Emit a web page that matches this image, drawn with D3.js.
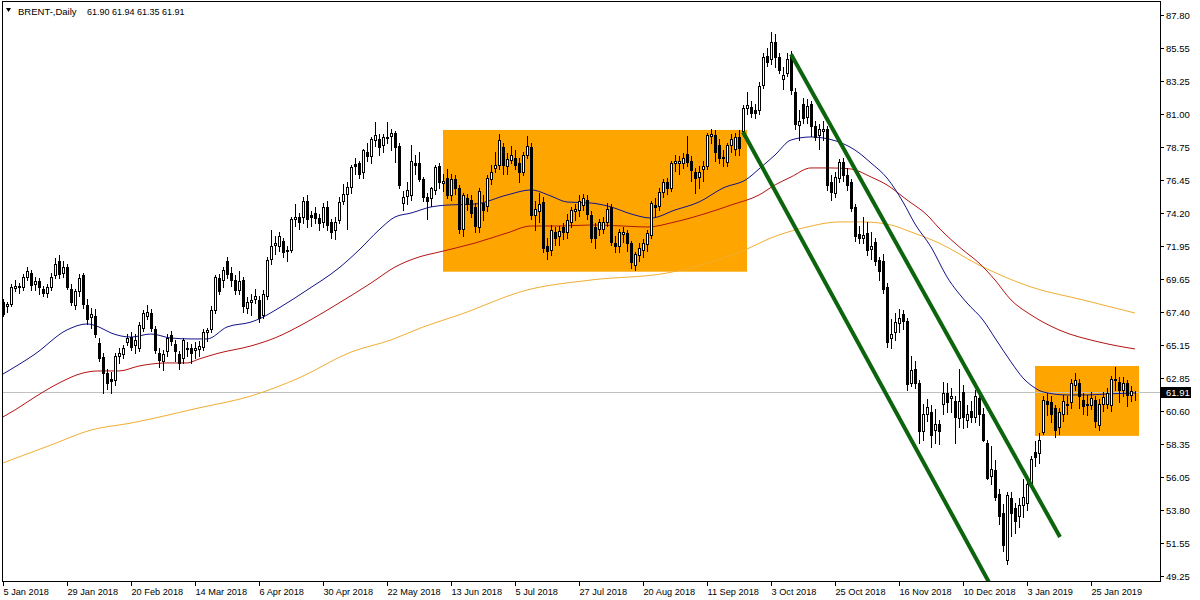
<!DOCTYPE html>
<html>
<head>
<meta charset="utf-8">
<script src="https://cdn.jsdelivr.net/npm/d3@7"></script>
<style>
  html, body { margin: 0; padding: 0; background: #ffffff; }
  svg { display: block; }
  text { font-family: "Liberation Sans", "DejaVu Sans", sans-serif; }
</style>
</head>
<body>
<svg id="chart" width="1200" height="600"></svg>
<script>
// ---------------- DATA ----------------
const SYMBOL = "BRENT-,Daily";
const LAST_OHLC = ["61.90", "61.94", "61.35", "61.91"];
const START_DATE = "2018-01-05";
const HOLIDAYS = ["2018-03-30", "2018-12-25", "2019-01-01"];

const OPEN = [
68.05,67.80,67.95,69.05,69.15,69.10,69.80,70.05,69.30,69.50,68.95,68.70,69.10,69.90,70.90,70.05,70.50,69.00,67.85,68.85,
69.90,67.90,67.05,67.10,65.25,64.30,63.20,62.80,62.70,64.40,64.50,65.30,65.70,65.10,64.90,66.30,67.10,67.30,66.20,64.60,
64.05,64.70,65.80,65.20,64.50,64.20,64.95,64.90,64.75,64.85,65.00,66.00,66.20,67.50,69.70,69.60,70.90,70.05,69.60,68.90,
69.60,67.70,68.10,68.30,68.20,67.20,68.50,71.00,72.00,71.90,72.25,71.65,71.65,73.80,73.90,73.90,75.00,74.05,74.20,73.85,
73.60,74.60,73.60,73.00,73.70,75.00,75.50,76.00,77.55,77.60,77.00,78.40,78.10,79.20,79.30,78.90,79.35,79.50,79.70,78.80,
74.90,75.35,75.40,77.60,77.65,76.50,75.30,75.20,75.80,77.40,76.25,76.60,75.40,76.50,75.90,73.10,75.20,75.10,74.60,73.25,
74.90,74.70,76.50,77.30,77.50,78.75,77.40,77.85,78.00,77.60,77.00,78.20,78.75,74.05,74.30,74.95,71.90,71.65,72.90,72.60,
73.20,72.90,73.60,74.30,74.40,74.75,75.10,74.05,73.25,73.10,73.10,73.60,74.60,72.15,71.90,72.75,72.80,72.15,70.60,71.30,
71.65,72.05,72.70,74.75,74.70,75.65,76.35,75.90,77.60,77.60,77.65,78.25,77.80,77.00,76.70,77.20,77.40,79.50,79.55,78.90,
78.05,77.70,78.85,78.60,79.45,79.80,81.40,81.45,81.30,81.30,83.00,85.00,84.80,85.95,84.90,83.40,83.80,85.05,82.50,80.25,
81.70,80.80,81.70,80.20,79.55,79.85,80.00,76.35,75.55,76.60,77.70,76.80,76.30,74.60,72.75,72.50,72.80,71.70,72.20,70.95,
70.90,69.10,65.60,66.00,66.65,67.25,66.80,62.50,63.50,62.50,59.20,60.40,60.50,59.30,59.70,61.10,61.85,61.50,61.30,60.10,
61.90,59.95,60.60,60.20,61.45,60.40,58.40,56.10,56.50,54.90,53.60,50.35,54.60,53.90,53.40,54.10,54.25,55.60,57.80,57.70,
59.15,61.25,61.20,60.80,59.50,60.40,61.00,61.20,62.40,62.50,61.35,61.00,61.00,61.35,59.60,61.10,61.10,61.00,62.80,62.60,
62.00,62.50,61.70,61.90];
const HIGH = [
68.30,68.10,69.30,69.60,69.40,70.00,70.50,70.30,69.80,69.70,69.20,69.30,70.10,71.10,71.30,70.90,70.70,69.30,69.00,70.00,
70.10,68.30,67.70,67.60,65.60,64.60,63.50,63.30,64.60,64.90,65.10,65.90,66.00,65.90,66.70,67.50,67.90,67.60,66.40,64.90,
64.80,65.90,66.10,65.50,64.70,65.60,65.30,65.20,65.30,65.40,66.20,66.30,67.80,69.90,70.00,70.50,71.20,70.50,69.90,70.20,
69.80,68.40,68.60,69.00,68.50,68.90,71.20,73.00,72.60,72.90,72.50,71.90,73.90,74.80,74.20,75.30,75.40,74.30,74.60,74.10,
74.90,75.00,73.80,73.90,75.30,76.20,76.30,77.50,78.00,77.80,78.60,79.00,79.40,80.45,79.60,79.60,80.45,80.00,79.80,79.00,
75.70,76.30,78.90,78.20,78.40,76.70,75.60,76.00,77.50,77.60,76.90,77.20,76.90,76.80,76.10,75.60,75.50,75.40,74.90,75.90,
75.40,76.80,77.50,78.40,79.60,79.00,78.30,78.80,78.50,78.00,78.40,79.50,79.00,75.00,75.60,75.30,72.50,73.40,73.20,73.30,
73.50,74.10,74.60,74.80,75.40,75.50,75.40,74.30,73.50,73.80,73.90,74.90,74.80,72.60,73.10,73.20,73.00,72.30,71.50,72.10,
72.40,73.00,75.00,75.20,75.90,76.50,76.60,77.80,78.20,78.10,78.30,79.50,78.10,77.30,77.40,77.80,79.70,80.00,79.90,79.30,
78.50,79.00,79.60,79.70,79.90,81.60,82.50,81.90,81.70,83.20,85.20,85.50,86.65,86.50,85.20,84.20,85.20,85.30,82.80,81.30,
82.10,82.00,81.90,80.50,80.30,80.50,80.20,76.80,77.00,77.90,78.00,77.30,76.50,74.80,73.30,73.90,73.60,72.90,72.50,71.20,
71.40,69.40,66.90,67.30,67.60,67.50,67.00,64.40,64.00,62.70,61.10,61.40,61.00,60.70,60.00,62.60,62.50,62.20,61.60,63.50,
62.40,61.00,61.30,62.00,61.90,60.80,58.60,58.20,57.20,55.20,54.20,55.00,55.00,54.30,54.60,55.90,56.20,57.50,58.50,59.10,
61.60,61.80,61.60,61.00,60.80,61.70,61.60,62.80,63.20,62.80,61.80,61.70,61.90,61.60,61.40,61.90,62.20,63.00,63.60,62.90,
62.90,62.70,62.30,61.94];
const LOW = [
67.10,67.40,67.80,68.80,68.70,68.90,69.60,68.90,68.90,68.60,68.50,68.40,68.90,69.70,69.70,69.80,69.00,67.90,67.60,68.50,
67.70,66.60,66.30,65.70,64.00,61.80,62.10,61.80,62.40,63.90,64.20,65.10,64.80,64.60,64.70,66.10,66.90,66.10,64.60,63.60,
63.40,64.40,65.10,64.00,63.50,63.90,64.40,63.90,64.20,64.40,64.80,65.40,66.00,67.30,68.60,69.10,69.70,69.20,68.60,68.60,
67.40,67.30,67.20,68.00,66.70,67.00,68.30,70.70,71.40,71.60,71.20,70.90,71.50,73.30,73.10,73.50,73.20,73.30,73.50,73.00,
73.20,73.00,72.50,72.40,73.50,74.80,73.10,75.60,76.90,76.60,76.60,77.80,77.60,78.80,78.20,78.40,79.00,78.50,77.70,75.90,
74.40,74.80,75.10,76.90,76.40,75.00,73.80,74.70,75.50,75.90,75.70,75.20,75.10,75.50,72.80,72.60,74.40,73.90,72.90,72.90,
73.70,74.30,76.20,77.00,77.20,76.90,76.90,77.60,77.20,76.30,76.80,78.00,73.80,73.00,73.60,71.50,71.00,71.30,72.00,72.00,
72.40,72.50,73.20,73.70,74.00,74.40,73.80,72.20,71.80,72.70,72.80,73.30,72.00,71.50,71.50,72.20,71.60,70.40,70.25,70.90,
71.20,71.60,72.50,74.00,74.40,75.30,75.50,75.70,77.10,76.90,77.30,77.40,76.40,75.60,75.90,76.40,77.20,79.00,77.80,77.60,
77.40,77.40,78.40,78.20,78.20,79.50,81.00,80.80,80.70,81.00,82.80,84.30,84.40,84.20,83.80,82.70,83.60,82.40,80.00,79.20,
80.40,80.40,79.50,79.20,78.60,79.20,75.80,75.10,75.30,76.30,76.40,75.80,74.30,72.30,72.10,72.10,71.30,71.00,70.60,69.60,
68.70,65.00,64.90,65.50,66.00,66.20,62.00,62.30,62.20,58.40,58.60,59.90,58.10,58.40,58.30,60.40,60.50,60.50,58.40,59.50,
59.40,59.50,59.80,59.80,59.60,58.50,55.90,55.60,54.50,52.80,51.00,50.10,52.00,52.20,52.60,53.30,53.80,55.30,56.80,57.00,
59.00,60.30,59.80,58.80,59.00,59.90,60.40,60.80,62.00,60.80,60.40,60.30,60.70,59.50,59.30,60.60,60.80,60.60,62.00,61.20,
61.60,60.90,61.30,61.35];
const CLOSE = [
67.25,67.95,69.10,69.15,69.10,69.80,70.20,69.25,69.50,69.10,68.70,69.10,69.80,70.70,70.00,70.50,69.10,68.05,68.85,69.70,
67.95,66.90,67.25,65.90,64.25,63.20,62.50,62.65,64.40,64.55,64.90,65.60,65.00,65.50,66.50,67.30,67.40,66.30,64.75,64.10,
64.50,65.60,65.40,64.70,63.90,65.50,64.85,64.60,64.95,65.05,66.00,66.15,67.50,69.80,68.80,70.30,70.00,69.60,68.90,69.50,
67.80,68.10,68.25,68.50,67.00,68.60,70.95,71.90,72.15,72.60,71.50,71.55,73.80,73.95,73.60,75.00,73.80,73.95,73.85,73.50,
74.60,73.40,72.90,73.60,74.95,75.50,75.95,77.35,77.45,76.90,78.50,78.10,79.25,79.55,78.75,79.40,79.45,79.70,78.75,76.15,
75.30,75.80,77.80,77.50,76.50,75.30,75.05,75.90,77.35,76.35,76.40,75.45,76.50,75.90,73.10,75.40,74.80,74.20,73.30,75.70,
74.40,76.60,77.00,77.50,79.20,77.50,77.90,78.20,77.50,77.00,78.20,78.80,74.05,74.45,74.80,71.80,71.55,73.00,72.50,72.95,
72.90,73.70,74.40,74.50,75.05,75.25,74.10,72.45,72.45,73.60,73.55,74.50,72.20,71.90,72.90,72.90,72.10,70.85,71.40,71.80,
72.10,72.80,74.90,74.60,75.65,76.30,75.90,77.65,77.75,77.80,77.95,77.70,77.15,76.60,77.00,77.40,79.55,79.65,78.40,78.00,
77.95,78.85,79.25,79.45,78.65,81.40,81.60,81.10,81.10,82.90,84.90,84.60,85.95,84.90,84.00,83.70,84.80,82.65,80.30,80.50,
80.75,81.55,80.20,79.40,79.95,79.95,76.10,75.65,76.70,77.70,76.80,76.10,74.55,72.60,72.50,72.70,71.65,71.90,70.90,70.20,
69.00,65.30,65.85,66.70,66.95,66.80,62.45,63.40,62.50,59.20,60.40,60.85,58.95,59.70,59.20,61.85,61.20,61.60,60.20,61.30,
60.20,60.40,60.20,61.60,60.40,58.60,56.00,56.60,54.70,53.40,51.35,54.80,53.55,53.00,54.10,54.70,55.60,57.30,57.45,58.60,
61.35,61.10,60.40,59.25,60.50,61.30,61.10,62.50,62.70,61.60,60.90,61.10,61.45,59.90,61.10,61.55,61.80,62.80,62.70,62.00,
62.50,61.70,61.95,61.91];

// moving averages: bar index / price
const MA_BLUE_IDX = [0,8,16,21,24,27,32,37,42,47,51,56,62,64,69,76,84,89,94,98,102,107,111,118,126,132,137,141,147,152,157,162,168,174,180,186,189,193,197,202,205,209,213,217,221,225,228,232,236,241,245,248,252,255,258,260,266,271,276,283];
const MA_BLUE_VAL = [63.13,64.50,66.16,66.57,66.36,65.95,65.67,65.88,65.60,65.54,65.54,66.36,66.70,66.91,67.67,68.90,70.42,71.65,73.03,73.92,74.19,74.61,74.74,74.81,75.43,75.78,75.36,74.95,74.88,74.61,74.13,73.85,74.40,74.95,75.91,76.53,77.22,78.18,79.21,79.42,79.35,79.07,78.52,77.63,76.60,74.95,73.44,71.86,69.80,68.01,66.84,65.60,63.96,62.86,62.17,61.90,61.69,61.69,61.76,61.83];
const MA_RED_IDX = [0,3,8,14,20,24,29,34,41,46,49,54,62,68,76,84,92,98,104,109,118,126,132,139,147,155,161,168,176,182,189,193,197,202,207,212,217,221,226,231,234,240,244,248,252,257,264,274,283];
const MA_RED_VAL = [60.18,60.66,61.55,62.51,63.20,63.34,63.34,63.68,63.89,63.89,64.16,64.57,65.06,65.61,66.71,68.01,69.38,70.48,71.17,71.51,72.13,72.82,73.30,73.30,73.37,73.30,73.23,73.58,74.19,74.74,75.43,76.12,76.67,77.29,77.29,77.22,76.67,76.12,75.09,74.06,73.16,71.65,70.76,69.59,68.22,67.19,66.16,65.33,64.85];
const MA_ORANGE_IDX = [0,12,22,32,49,62,74,87,97,105,114,131,147,166,186,192,201,209,215,222,227,234,244,257,270,283];
const MA_ORANGE_VAL = [57.02,58.25,59.28,59.76,60.80,61.62,62.86,64.64,65.47,66.36,67.19,68.90,69.59,70.07,71.72,72.48,73.23,73.58,73.58,73.37,72.89,72.13,70.62,69.11,68.22,67.32];

// drawn objects (bar index / price)
const BOX_FROM = [110, 258];
const BOX_TO = [186, 284];
const BOX_TOP = [79.90, 63.68];
const BOX_BOTTOM = [70.16, 58.88];
const TREND_I1 = [197, 185];
const TREND_P1 = [85.10, 79.76];
const TREND_I2 = [264.25, 250];
const TREND_P2 = [51.93, 47.06];

// axis labels
const PRICE_TICKS = ["87.80","85.55","83.25","81.00","78.75","76.45","74.20","71.95","69.65","67.40","65.15","62.85","60.60","58.35","56.05","53.80","51.55","49.25"];
const TIME_TICKS = ["5 Jan 2018","29 Jan 2018","20 Feb 2018","14 Mar 2018","6 Apr 2018","30 Apr 2018","22 May 2018","13 Jun 2018","5 Jul 2018","27 Jul 2018","20 Aug 2018","11 Sep 2018","3 Oct 2018","25 Oct 2018","16 Nov 2018","10 Dec 2018","3 Jan 2019","25 Jan 2019"];

// ---------------- BUILD ----------------
const fmt = d3.timeFormat("%-d %b %Y");
const iso = d3.timeFormat("%Y-%m-%d");
const dates = [];
{
  let d = d3.timeParse("%Y-%m-%d")(START_DATE);
  while (dates.length < CLOSE.length) {
    const wd = d.getDay();
    if (wd !== 0 && wd !== 6 && !HOLIDAYS.includes(iso(d))) dates.push(new Date(d));
    d = d3.timeDay.offset(d, 1);
  }
}
const bars = CLOSE.map((c, i) => ({ i, date: dates[i], o: OPEN[i], h: HIGH[i], l: LOW[i], c }));

const W = 1200, H = 600;
const plotL = 2, plotR = 1160, plotT = 1, plotB = 581;

const x = d3.scaleLinear().domain([0, bars.length - 1]).range([3, 3 + 4 * (bars.length - 1)]);
const y = d3.scaleLinear().domain([49.25, 87.80]).range([576, 15]);

const svg = d3.select("#chart");
svg.append("rect").attr("width", W).attr("height", H).attr("fill", "#ffffff");

svg.append("defs").append("clipPath").attr("id", "plot")
  .append("rect").attr("x", plotL + 1).attr("y", plotT + 1).attr("width", plotR - plotL - 1).attr("height", plotB - plotT - 1);

const plot = svg.append("g").attr("clip-path", "url(#plot)");

// rectangles (background objects)
plot.append("g").selectAll("rect").data(BOX_FROM.map((f, k) => k)).join("rect")
  .attr("x", k => x(BOX_FROM[k]))
  .attr("width", k => x(BOX_TO[k]) - x(BOX_FROM[k]))
  .attr("y", k => y(BOX_TOP[k]))
  .attr("height", k => y(BOX_BOTTOM[k]) - y(BOX_TOP[k]))
  .attr("fill", "#ffa500");

// bid line
const last = bars[bars.length - 1];
plot.append("line")
  .attr("x1", plotL).attr("x2", plotR)
  .attr("y1", Math.round(y(last.c)) + 0.5).attr("y2", Math.round(y(last.c)) + 0.5)
  .attr("stroke", "#c0c0c0").attr("stroke-width", 1);

// moving averages
function maLine(idx, val, color) {
  const pts = idx.map((d, k) => [x(d), y(val[k])]);
  plot.append("path")
    .attr("d", d3.line().curve(d3.curveMonotoneX)(pts))
    .attr("fill", "none").attr("stroke", color).attr("stroke-width", 1);
}
maLine(MA_ORANGE_IDX, MA_ORANGE_VAL, "#f0ae32");
maLine(MA_RED_IDX, MA_RED_VAL, "#b41414");
maLine(MA_BLUE_IDX, MA_BLUE_VAL, "#12128a");

// candles
const cg = plot.append("g").attr("shape-rendering", "crispEdges");
cg.selectAll("line").data(bars).join("line")
  .attr("x1", d => Math.round(x(d.i)) + 0.5).attr("x2", d => Math.round(x(d.i)) + 0.5)
  .attr("y1", d => Math.round(y(d.h))).attr("y2", d => Math.round(y(d.l)) + 1)
  .attr("stroke", "#000");
cg.selectAll("rect").data(bars).join("rect")
  .attr("x", d => Math.round(x(d.i)) - 0.5)
  .attr("width", 2)
  .attr("y", d => Math.round(y(Math.max(d.o, d.c))) + 0.5)
  .attr("height", d => Math.max(0, Math.round(y(Math.min(d.o, d.c))) - Math.round(y(Math.max(d.o, d.c)))))
  .attr("fill", d => d.c >= d.o ? "#ffffff" : "#000000")
  .attr("stroke", "#000").attr("stroke-width", 1);

// trend lines
plot.append("g").selectAll("line").data(TREND_I1.map((d, k) => k)).join("line")
  .attr("x1", k => x(TREND_I1[k])).attr("y1", k => y(TREND_P1[k]))
  .attr("x2", k => x(TREND_I2[k])).attr("y2", k => y(TREND_P2[k]))
  .attr("stroke", "#0c640c").attr("stroke-width", 4);

// frame
const frame = svg.append("g").attr("shape-rendering", "crispEdges").attr("stroke", "#000").attr("fill", "none");
frame.append("rect").attr("x", plotL + 0.5).attr("y", plotT + 0.5).attr("width", plotR - plotL).attr("height", plotB - plotT);

// price axis
const pa = svg.append("g");
PRICE_TICKS.forEach(t => {
  const yy = Math.round(y(+t)) + 0.5;
  pa.append("line").attr("x1", plotR + 1).attr("x2", plotR + 4).attr("y1", yy).attr("y2", yy)
    .attr("stroke", "#000").attr("shape-rendering", "crispEdges");
  pa.append("text").attr("x", plotR + 6).attr("y", yy + 3.5).attr("font-size", 9.5).attr("fill", "#000").text(t);
});
// current price label
const ly = Math.round(y(last.c));
pa.append("rect").attr("x", plotR + 1).attr("y", ly - 5).attr("width", 30).attr("height", 11).attr("fill", "#000");
pa.append("text").attr("x", plotR + 6).attr("y", ly + 4).attr("font-size", 9.5).attr("fill", "#fff").text(d3.format(".2f")(last.c));

// time axis
const ta = svg.append("g");
TIME_TICKS.forEach(t => {
  const k = dates.findIndex(d => fmt(d) === t);
  if (k < 0) return;
  const xx = Math.round(x(k)) + 0.5;
  ta.append("line").attr("x1", xx).attr("x2", xx).attr("y1", plotB + 1).attr("y2", plotB + 5)
    .attr("stroke", "#000").attr("shape-rendering", "crispEdges");
  ta.append("text").attr("x", xx).attr("y", plotB + 14).attr("font-size", 9.2).attr("fill", "#000").text(t);
});

// header
svg.append("path").attr("d", "M6,8 L11,8 L8.5,12 Z").attr("fill", "#000");
svg.append("text").attr("x", 18).attr("y", 14.5).attr("font-size", 9.5).attr("fill", "#000").text(SYMBOL);
svg.append("text").attr("x", 87).attr("y", 14.5).attr("font-size", 9).attr("fill", "#000").text(LAST_OHLC.join(" "));
</script>
</body>
</html>
